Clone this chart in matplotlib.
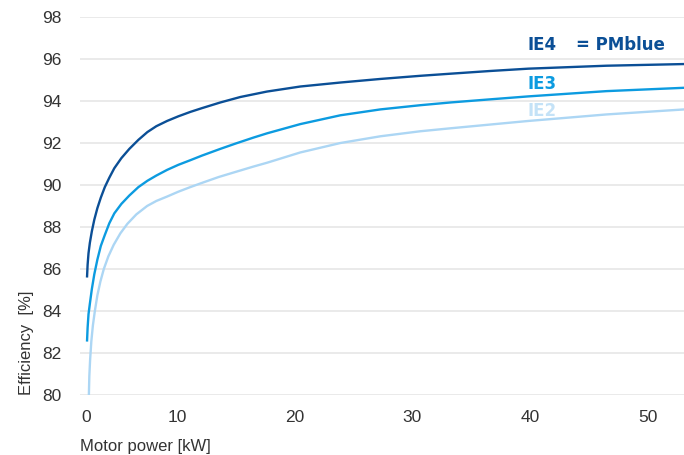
import numpy as np
import matplotlib
matplotlib.use('Agg')
import matplotlib.pyplot as plt

# 读图得到的数据 (kW, %)
ie4_kw = [0.08, 0.14, 0.24, 0.39, 0.61, 0.88, 1.22, 1.60, 2.04, 2.54, 3.09, 3.87,
          4.75, 5.75, 6.74, 7.73, 8.92, 10.12, 11.14, 12.13, 13.69, 15.39, 17.66,
          20.49, 23.9, 27.3, 30.7, 33.25, 36.65, 39.88, 46.51, 53.15]
ie4_eff = [85.65, 86.2, 86.75, 87.25, 87.8, 88.35, 88.9, 89.4, 89.9, 90.35, 90.8, 91.28,
           91.72, 92.15, 92.52, 92.8, 93.05, 93.27, 93.48, 93.66, 93.93, 94.19, 94.45,
           94.69, 94.88, 95.05, 95.2, 95.3, 95.43, 95.54, 95.68, 95.76]

ie3_kw = [0.08, 0.14, 0.24, 0.39, 0.61, 0.88, 1.22, 1.60, 2.04, 2.54, 3.09, 3.87,
          4.75, 5.75, 6.74, 7.73, 8.92, 10.12, 11.14, 12.13, 13.69, 14.97, 16.52,
          17.66, 20.49, 23.9, 27.3, 30.7, 33.25, 36.65, 39.88, 46.51, 53.15]
ie3_eff = [82.6, 83.2, 83.85, 84.35, 85.05, 85.75, 86.45, 87.1, 87.62, 88.18, 88.65, 89.1,
           89.5, 89.9, 90.2, 90.45, 90.72, 90.96, 91.18, 91.4, 91.72, 91.97, 92.26,
           92.46, 92.9, 93.32, 93.6, 93.8, 93.93, 94.08, 94.22, 94.47, 94.63]

ie2_kw = [0.28, 0.33, 0.42, 0.55, 0.72, 0.94, 1.22, 1.55, 1.93, 2.43, 3.02, 3.76,
          4.53, 5.52, 6.71, 7.73, 8.92, 10.12, 11.14, 12.13, 13.55, 14.97, 16.52,
          17.66, 20.49, 23.9, 27.3, 30.7, 33.25, 36.65, 39.88, 46.51, 53.15]
ie2_eff = [80.0, 80.9, 81.7, 82.55, 83.3, 84.0, 84.75, 85.4, 86.0, 86.6, 87.15, 87.7,
           88.15, 88.6, 89.0, 89.24, 89.45, 89.68, 89.9, 90.1, 90.38, 90.62, 90.88,
           91.06, 91.55, 92.0, 92.32, 92.56, 92.7, 92.88, 93.05, 93.36, 93.6]

x_ticks = [0, 10, 20, 30, 40, 50]
y_ticks = [80, 82, 84, 86, 88, 90, 92, 94, 96, 98]

c_ie4 = '#0b4f96'
c_ie3 = '#0c9be0'
c_ie2 = '#acd6f4'
c_text = '#333333'

plt.rcParams['font.family'] = ['Liberation Sans', 'DejaVu Sans']

# 0~10 段在原图中被压缩
k = 0.7696


def fwd(x):
    x = np.asarray(x, dtype=float)
    return np.where(x < 10, x * k, 10 * k + (x - 10))


def inv(u):
    u = np.asarray(u, dtype=float)
    return np.where(u < 10 * k, u / k, 10 + (u - 10 * k))


fig = plt.figure(figsize=(6.84, 4.55), dpi=100)
ax = fig.add_axes([80 / 684, 1 - 395 / 455, 1 - 80 / 684, (395 - 17) / 455])
ax.set_xscale('function', functions=(fwd, inv))

ax.plot(ie2_kw, ie2_eff, color=c_ie2, lw=1.7, zorder=4, solid_joinstyle='round')
ax.plot(ie3_kw, ie3_eff, color=c_ie3, lw=1.7, zorder=4, solid_joinstyle='round')
ax.plot(ie4_kw, ie4_eff, color=c_ie4, lw=1.7, zorder=4, solid_joinstyle='round')

ax.set_xlim(-0.7, 53.1)
ax.set_ylim(80, 98)
ax.set_xticks(x_ticks)
ax.set_yticks(y_ticks)
ax.minorticks_off()
ax.grid(axis='y', color='#e8e8e8', lw=1.3, zorder=0)
ax.grid(axis='x', visible=False)
for s in ax.spines.values():
    s.set_visible(False)
ax.tick_params(length=0, labelsize=12.5, labelcolor=c_text)
ax.tick_params(axis='y', pad=13)
ax.tick_params(axis='x', pad=11)

ax.set_xlabel('Motor power [kW]', loc='left', fontsize=12, color=c_text, labelpad=10)
ax.set_ylabel('Efficiency  [%]', loc='bottom', fontsize=12, color=c_text, labelpad=6)

lab = dict(fontsize=12, fontweight='bold', family='DejaVu Sans',
           ha='left', va='center', zorder=3)
ax.text(39.8, 96.66, 'IE4', color=c_ie4, **lab)
ax.text(43.9, 96.66, '= PMblue', color=c_ie4, **lab)
ax.text(39.8, 94.8, 'IE3', color=c_ie3, **lab)
ax.text(39.8, 93.5, 'IE2', color='#c4e2f7', **lab)

fig.savefig('out.png', dpi=100)
